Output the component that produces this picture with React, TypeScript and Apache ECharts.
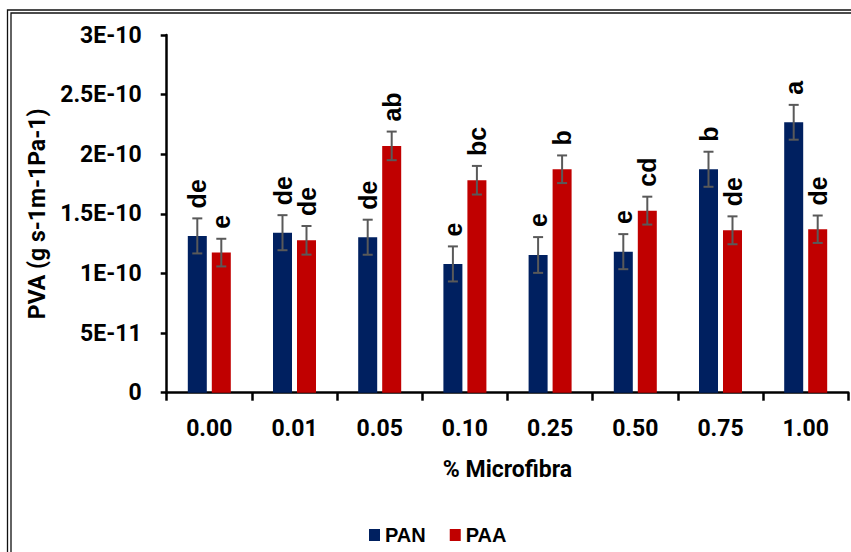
import React, { useEffect, useRef } from 'react';
import * as echarts from 'echarts';

// % Microfibra categories
const categories = ['0.00', '0.01', '0.05', '0.10', '0.25', '0.50', '0.75', '1.00'];

// PAN series (g s-1 m-1 Pa-1)
const panValues = [1.315e-10, 1.342e-10, 1.304e-10, 1.08e-10, 1.155e-10, 1.183e-10, 1.874e-10, 2.268e-10];
const panErrors = [0.147e-10, 0.147e-10, 0.147e-10, 0.147e-10, 0.15e-10, 0.147e-10, 0.147e-10, 0.146e-10];
const panLetters = ['de', 'de', 'de', 'e', 'e', 'e', 'b', 'a'];

// PAA series
const paaValues = [1.175e-10, 1.278e-10, 2.07e-10, 1.782e-10, 1.874e-10, 1.527e-10, 1.362e-10, 1.371e-10];
const paaErrors = [0.116e-10, 0.12e-10, 0.12e-10, 0.12e-10, 0.116e-10, 0.117e-10, 0.117e-10, 0.115e-10];
const paaLetters = ['e', 'de', 'ab', 'bc', 'b', 'cd', 'de', 'de'];

const yTickLabels = ['0', '5E-11', '1E-10', '1.5E-10', '2E-10', '2.5E-10', '3E-10'];

const BLUE = '#002060';
const RED = '#C00000';
const BAR_W = 19;
const BAR_GAP = 5;

function errorSeries(name: string, values: number[], errors: number[], letters: string[], offset: number) {
  return {
    type: 'custom',
    name: name + '-err',
    silent: true,
    z: 5,
    encode: { x: 0, y: 1 },
    data: values.map((v, i) => [i, v, errors[i]]),
    renderItem: (params: any, api: any) => {
      const i = api.value(0);
      const v = api.value(1);
      const e = api.value(2);
      const top = api.coord([i, v + e]);
      const bot = api.coord([i, v - e]);
      const x = top[0] + offset;
      const cap = 5;
      const st = { stroke: '#595959', lineWidth: 2 };
      return {
        type: 'group',
        children: [
          { type: 'line', shape: { x1: x, y1: top[1], x2: x, y2: bot[1] }, style: st },
          { type: 'line', shape: { x1: x - cap, y1: top[1], x2: x + cap, y2: top[1] }, style: st },
          { type: 'line', shape: { x1: x - cap, y1: bot[1], x2: x + cap, y2: bot[1] }, style: st },
          {
            type: 'text',
            x: x,
            y: top[1] - 10,
            rotation: Math.PI / 2,
            style: {
              text: letters[params.dataIndex],
              font: 'bold 25px "Liberation Sans", Arial, sans-serif',
              fill: '#000',
              align: 'left',
              verticalAlign: 'middle',
            },
          },
        ],
      };
    },
  };
}

export default function App() {
  const ref = useRef<HTMLDivElement>(null);
  useEffect(() => {
    if (!ref.current) return;
    const chart = echarts.init(ref.current, null, { renderer: 'svg' });
    const tickFont = { fontFamily: 'Roboto', fontWeight: 'bold' as const, fontSize: 23, color: '#000' };
    const off = (BAR_W + BAR_GAP) / 2;
    chart.setOption({
      animation: false,
      backgroundColor: '#fff',
      graphic: [
        { type: 'rect', shape: { x: 7.5, y: 10, width: 900, height: 600 }, style: { fill: 'none', stroke: '#111', lineWidth: 1.3 }, silent: true },
        { type: 'rect', shape: { x: 11, y: 13, width: 900, height: 600 }, style: { fill: 'none', stroke: '#111', lineWidth: 1.3 }, silent: true },
      ],
      grid: { left: 166.7, right: 2.7, top: 35, bottom: 159.3, containLabel: false, outerBoundsMode: 'none' },
      legend: {
        data: ['PAN', 'PAA'],
        left: 369,
        top: 525,
        padding: 0,
        icon: 'rect',
        itemWidth: 11,
        itemHeight: 12,
        itemGap: 24,
        textStyle: { fontFamily: '"Liberation Sans", Arial, sans-serif', fontWeight: 'bold', fontSize: 20, color: '#000' },
      },
      xAxis: {
        type: 'category',
        data: categories,
        name: '% Microfibra',
        nameLocation: 'middle',
        nameGap: 65,
        nameTextStyle: tickFont,
        axisLine: { lineStyle: { color: '#000', width: 2.5 } },
        axisTick: { show: true, length: 8, lineStyle: { color: '#000', width: 2.5 } },
        axisLabel: { ...tickFont, margin: 24 },
      },
      yAxis: {
        type: 'value',
        min: 0,
        max: 3e-10,
        interval: 5e-11,
        name: 'PVA (g s-1m-1Pa-1)',
        nameLocation: 'middle',
        nameGap: 110,
        nameTextStyle: tickFont,
        splitLine: { show: false },
        axisLine: { show: true, lineStyle: { color: '#000', width: 2.5 } },
        axisTick: { show: true, length: 6, lineStyle: { color: '#000', width: 2.5 } },
        axisLabel: {
          ...tickFont,
          margin: 25,
          formatter: (v: number) => yTickLabels[Math.round(v / 5e-11)] ?? '',
        },
      },
      series: [
        { type: 'bar', name: 'PAN', data: panValues, barWidth: BAR_W, barGap: ((BAR_GAP / BAR_W) * 100).toFixed(1) + '%', itemStyle: { color: BLUE } },
        { type: 'bar', name: 'PAA', data: paaValues, barWidth: BAR_W, itemStyle: { color: RED } },
        errorSeries('PAN', panValues, panErrors, panLetters, -off),
        errorSeries('PAA', paaValues, paaErrors, paaLetters, off),
      ],
    });
    return () => chart.dispose();
  }, []);
  return <div ref={ref} style={{ position: 'fixed', left: 0, top: 0, width: 851, height: 552 }} />;
}
